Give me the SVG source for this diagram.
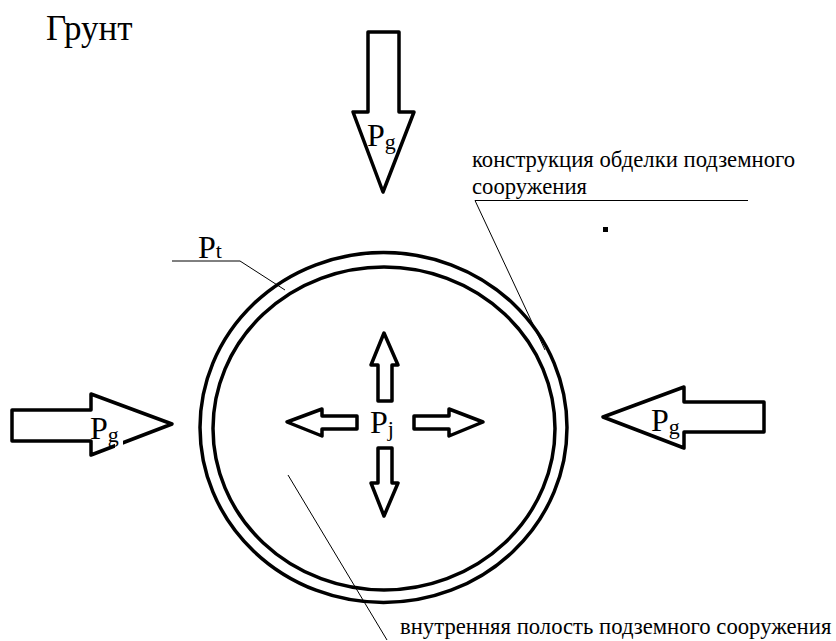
<svg xmlns="http://www.w3.org/2000/svg" width="836" height="641" viewBox="0 0 836 641">
<style>
text{font-family:"Liberation Serif",serif;fill:#000}
.a{fill:#fff;stroke:#000;stroke-width:3.500;stroke-linejoin:round}
.l{fill:none;stroke:#000;stroke-width:1}
.c{fill:none;stroke:#000;stroke-width:3.500}
.p{font-size:32px}
.s{font-size:22px}
.t{font-size:22.700px}
</style>
<rect width="836" height="641" fill="#fff"/>
<text x="46" y="40" font-size="35">Грунт</text>
<g id="lining"><ellipse class="c" cx="383.500" cy="427.500" rx="183.500" ry="175"/><ellipse class="c" cx="384" cy="428.500" rx="171" ry="161.500"/></g>
<g id="connectors">
<path class="l" d="M172 261H240L285 290"/>
<path class="l" d="M475 200.500H748M475 200.500L545 350"/>
<path class="l" d="M288 475L387 640"/>
</g>
<g id="pg-top"><path class="a" d="M368 32H399V112H414L383 192L353 112H368Z"/><text x="367" y="146" class="p">P<tspan class="s" dy="3">g</tspan></text></g>
<g id="pg-left"><path class="a" d="M12 410H91V394L172 424L91 455V441H12Z"/><rect x="115" y="438" width="8" height="12" fill="#fff"/><text x="90" y="439" class="p">P<tspan class="s" dy="3">g</tspan></text></g>
<g id="pg-right"><path class="a" d="M764 402H684V387L603 417L684 448V432H764Z"/><text x="651" y="431" class="p">P<tspan class="s" dy="3">g</tspan></text></g>
<g id="pj-up"><path class="a" d="M378 401V365H371L384 333L398 365H392V401Z"/></g>
<g id="pj-down"><path class="a" d="M378 448V483H371L384 516L398 483H392V448Z"/></g>
<g id="pj-left"><path class="a" d="M357 416H322V409L287 422L322 436V429H357Z"/></g>
<g id="pj-right"><path class="a" d="M414 416H449V409L483 422L449 436V429H414Z"/></g>
<g id="pj-label"><text x="370" y="433" class="p">P<tspan class="s" dy="3">j</tspan></text></g>
<g id="pt-label"><text x="198" y="258" class="p">P<tspan class="s" dy="0">t</tspan></text></g>
<text x="472" y="167" class="t">конструкция обделки подземного</text>
<text x="472" y="194" class="t">сооружения</text>
<text x="400" y="634" class="t">внутренняя полость подземного сооружения</text>
<rect x="603" y="227" width="5" height="5" fill="#000"/>
</svg>
